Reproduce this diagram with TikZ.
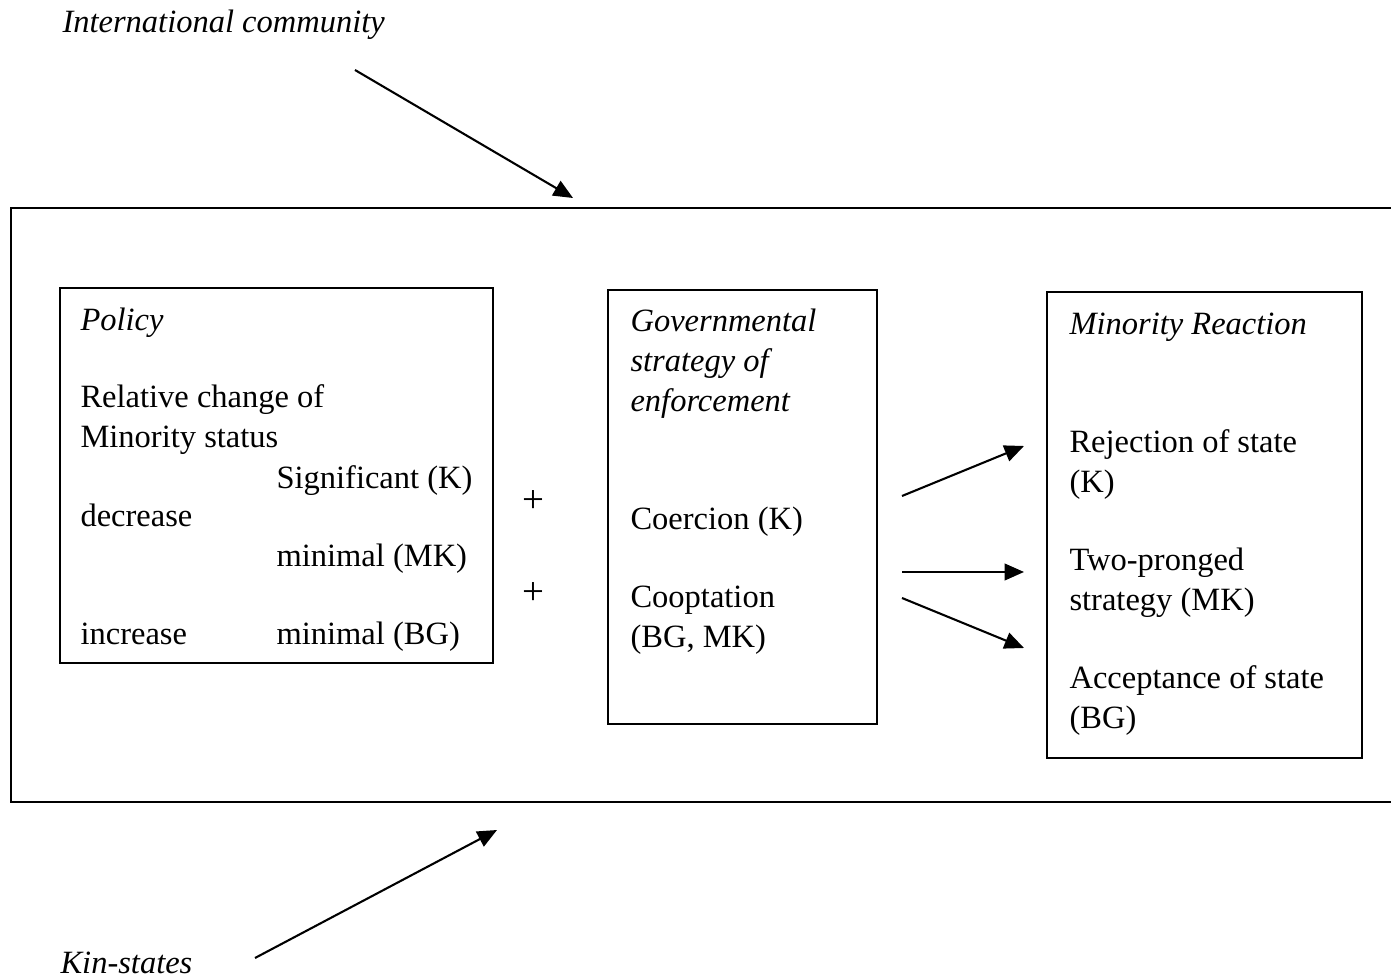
\documentclass[tikz,border=0pt]{standalone}
\usepackage{fontspec}
\setmainfont{Liberation Serif}
\usetikzlibrary{arrows.meta,fit}
\begin{document}
\begin{tikzpicture}[x=0.36pt,y=-0.36pt,
  every node/.style={font=\fontsize{11.7}{14.4}\selectfont},
  txt/.style={anchor=base west,inner sep=0pt,align=left},
  ital/.style={txt,font=\fontsize{11.7}{14.4}\selectfont\itshape},
  box/.style={draw,line width=0.75pt,inner sep=0pt},
  frame/.style={line width=0.75pt},
  arr/.style={line width=0.75pt,-{Triangle[length=7pt,width=6pt]}},
  plus/.style={inner sep=0pt,font=\fontsize{14}{14}\selectfont}]
\useasboundingbox (0,0) rectangle (1391,979);
% outer frame (open to the right)
\draw[frame] (1391,208) -- (10,208) (11,208) -- (11,802) (10,802) -- (1391,802);
% labels outside
\node[ital] (intl) at (62,33) {International community};
\node[ital] (kin) at (60,973) {Kin-states};
\coordinate (intlS) at (355,70);
\coordinate (intlE) at (573,198);
\coordinate (kinS) at (255,958);
\coordinate (kinE) at (497,830);
\draw[arr] (intlS) -- (intlE);
\draw[arr] (kinS) -- (kinE);
% boxes
\node[box,fit={(60,288) (493,663)}] (policy) {};
\node[box,fit={(608,290) (877,724)}] (gov) {};
\node[box,fit={(1047,292) (1362,758)}] (minority) {};
% policy text (base anchor = last line)
\node[ital] (pT) at (80,331) {Policy};
\node[txt] (pRel) at (80,448) {Relative change of\\Minority status};
\node[txt] (pSig) at (276,489) {Significant (K)};
\node[txt] (pDec) at (80,527) {decrease};
\node[txt] (pMinMK) at (276,567) {minimal (MK)};
\node[txt] (pInc) at (80,645) {increase};
\node[txt] (pMinBG) at (276,645) {minimal (BG)};
% plus signs
\node[plus] (plus1) at (533,502) {+};
\node[plus] (plus2) at (533,594) {+};
% governmental text
\node[ital] (gT) at (630,412) {Governmental\\strategy of\\enforcement};
\node[txt] (gCoe) at (630,530) {Coercion (K)};
\node[txt] (gCoo) at (630,648) {Cooptation\\(BG, MK)};
% minority text
\node[ital] (mT) at (1069,335) {Minority Reaction};
\node[txt] (mRej) at (1069,493) {Rejection of state\\(K)};
\node[txt] (mTwo) at (1069,611) {Two-pronged\\strategy (MK)};
\node[txt] (mAcc) at (1069,729) {Acceptance of state\\(BG)};
% arrows between boxes
\coordinate (a1s) at (902,496); \coordinate (a1e) at (1024,446);
\coordinate (a2s) at (902,572); \coordinate (a2e) at (1024,572);
\coordinate (a3s) at (902,598); \coordinate (a3e) at (1024,648);
\draw[arr] (a1s) -- (a1e);
\draw[arr] (a2s) -- (a2e);
\draw[arr] (a3s) -- (a3e);
\end{tikzpicture}
\end{document}
